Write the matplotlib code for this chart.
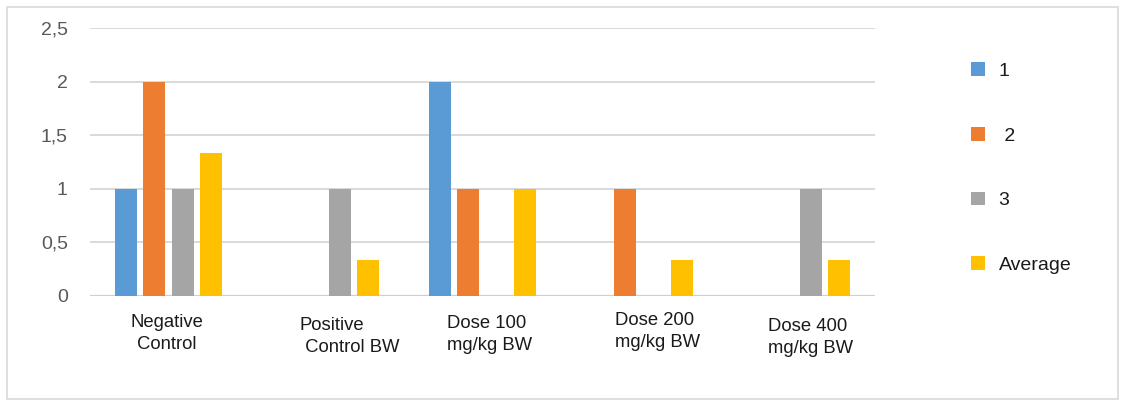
import matplotlib
matplotlib.use("Agg")
import matplotlib.pyplot as plt
import matplotlib.transforms as mtransforms
from matplotlib.patches import Patch, Rectangle
import numpy as np

plt.rcParams['font.family'] = ['Liberation Sans', 'DejaVu Sans']

categories = ["Negative\nControl", "Positive\n Control BW", "Dose 100\nmg/kg BW",
              "Dose 200\nmg/kg BW", "Dose 400\nmg/kg BW"]
series_names = ["1", " 2", "3", "Average"]
series_1 = [1, 0, 2, 0, 0]
series_2 = [2, 0, 1, 1, 0]
series_3 = [1, 1, 0, 0, 1]
series_avg = [1.333, 0.333, 1, 0.333, 0.333]
yticks = [0, 0.5, 1, 1.5, 2, 2.5]
ytick_labels = ["0", "0,5", "1", "1,5", "2", "2,5"]

colors = ["#5B9BD5", "#ED7D31", "#A5A5A5", "#FFC000"]
all_series = [series_1, series_2, series_3, series_avg]

fig = plt.figure(figsize=(11.25, 4.01), dpi=100)
ax = fig.add_axes([90 / 1125, 1 - 296 / 401, 785 / 1125, 268 / 401])

x = np.arange(len(categories))
step = 0.1815
width = 0.14
for i, (vals, c) in enumerate(zip(all_series, colors)):
    ax.bar(x + (i - 1.5) * step, vals, width=width, color=c, zorder=3)

ax.set_xlim(-0.5, len(categories) - 0.5)
ax.set_ylim(0, 2.5)
ax.set_yticks(yticks, ytick_labels)
ax.yaxis.grid(True, color="#d9d9d9", linewidth=1.4, zorder=0)
for s in ax.spines.values():
    s.set_visible(False)
ax.axhline(0, color="#d0d0d0", linewidth=1.6, zorder=2)
ax.tick_params(axis="y", length=0, pad=16, labelsize=14, labelcolor="#595959")
ax.set_xticks(x, categories)
ax.tick_params(axis="x", length=0, pad=14, labelsize=13.3, labelcolor="#1a1a1a")

# individual nudges for the two-line category labels (pixels, +dy = down)
label_shift = [(-2, -1), (24, 2), (7, 0), (18, -3), (14, 3)]
label_align = ["center", "left", "left", "left", "left"]
for lab, (dx, dy), al in zip(ax.get_xticklabels(), label_shift, label_align):
    lab.set_multialignment(al)
    lab.set_linespacing(1.38)
    lab.set_transform(lab.get_transform() +
                      mtransforms.ScaledTranslation(dx / 100, -dy / 100, fig.dpi_scale_trans))

handles = [Patch(facecolor=c, edgecolor="none") for c in colors]
leg = fig.legend(handles, series_names, loc="upper left",
                 bbox_to_anchor=(971 / 1125, 1 - 62 / 401),
                 frameon=False, fontsize=14, labelspacing=2.42,
                 handlelength=0.72, handleheight=0.72, handletextpad=0.7,
                 borderpad=0, borderaxespad=0)
for t in leg.get_texts():
    t.set_color("#1a1a1a")

fig.patches.append(Rectangle((7 / 1125, 1 - 399 / 401), 1111 / 1125, 392 / 401,
                             transform=fig.transFigure, fill=False,
                             edgecolor="#d9d9d9", linewidth=1.2))

fig.savefig("out.png", dpi=100, facecolor="white")
